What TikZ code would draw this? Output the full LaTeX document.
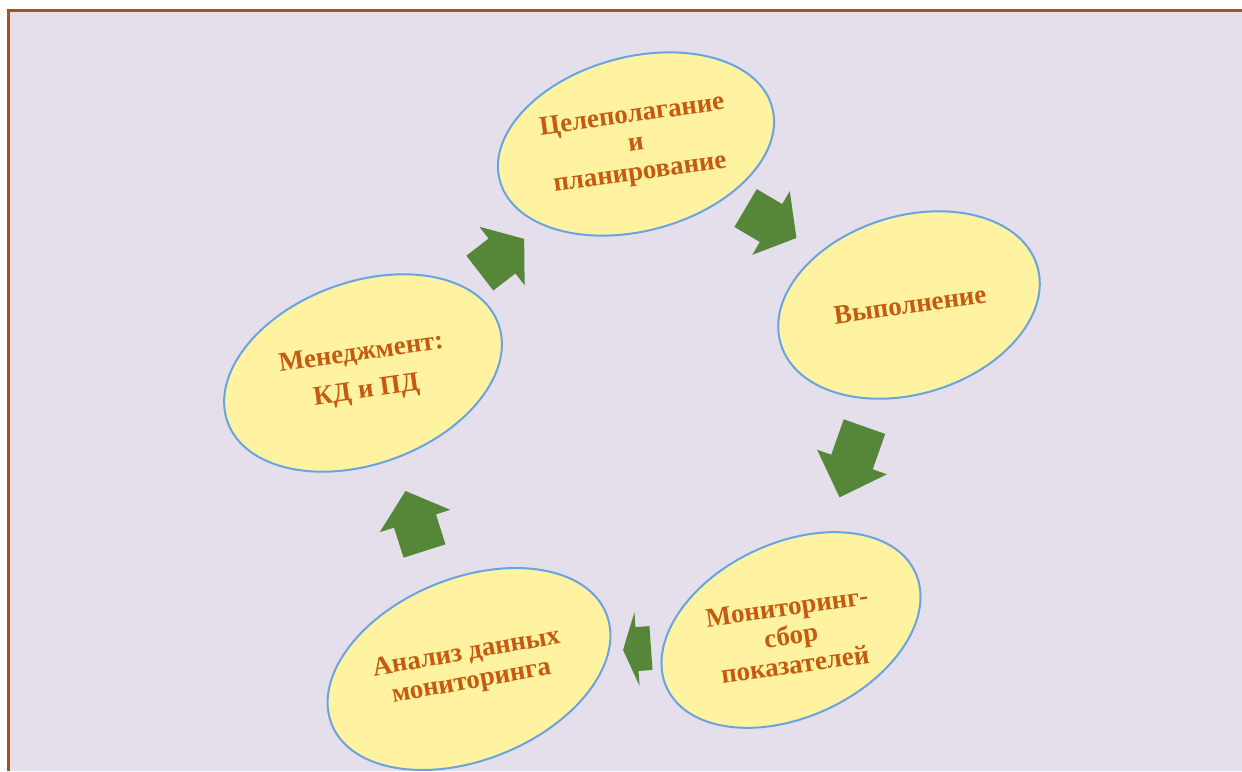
\documentclass[tikz,border=0pt]{standalone}
\usepackage{fontspec}
\setmainfont{Liberation Serif}
\usetikzlibrary{shapes.geometric}
\definecolor{lilac}{RGB}{229, 223, 236}
\definecolor{cream}{RGB}{255, 242, 161}
\definecolor{sky}{RGB}{104, 164, 224}
\definecolor{rust}{RGB}{197, 90, 17}
\definecolor{leaf}{RGB}{86, 135, 56}
\definecolor{frame}{RGB}{165, 82, 27}

% block arrow: centre, angle, length
\newcommand{\blockarrow}[3]{%
  \fill[leaf, shift={#1}, rotate=#2]
    (-#3/2, -22) -- (0, -22) -- (0, -37) -- (#3/2, 0)
    -- (0, 37) -- (0, 22) -- (-#3/2, 22) -- cycle;
}

\begin{document}
\begin{tikzpicture}[x=0.5pt, y=-0.5pt,
    bubble/.style={ellipse, fill=cream, draw=sky, line width=1pt, inner sep=0pt},
    caption/.style={text=rust, align=center, rotate=8,
      font=\bfseries\fontsize{13.5}{14.5}\selectfont}]

  \useasboundingbox (0, 0) rectangle (1242, 771);
  \clip (0, 0) rectangle (1242, 771);
  \fill[white] (0, 0) rectangle (1242, 771);
  \fill[lilac] (8, 10) rectangle (1242, 771);
  \draw[frame, line width=1.5pt] (8, 771) -- (8, 10) -- (1242, 10);

  % the five stages
  \node[bubble, rotate=15, minimum width=141pt, minimum height=87pt] (plan) at (636, 144) {};
  \node[bubble, rotate=17, minimum width=134pt, minimum height=89pt] (exec) at (909, 305) {};
  \node[bubble, rotate=25, minimum width=137pt, minimum height=87pt] (monit) at (791, 630) {};
  \node[bubble, rotate=22, minimum width=148pt, minimum height=91pt] (anal) at (469, 669) {};
  \node[bubble, rotate=20, minimum width=144pt, minimum height=91pt] (manag) at (363, 373) {};

  \node[caption] (plan-text) at (636, 145) {Целеполагание\\и\\планирование};
  \node[caption] (exec-text) at (910, 305) {Выполнение};
  \node[caption] (monit-text) at (791, 636) {Мониторинг-\\сбор\\показателей};
  \node[caption, rotate=2] (anal-text) at (469, 668) {Анализ данных\\мониторинга};
  \node[caption] (manag-text) at (364, 373) {Менеджмент:\\[4.5pt]КД и ПД};

  % arrows between the stages
  \blockarrow{(771, 223)}{-30.5}{59}
  \blockarrow{(852, 462)}{-109.4}{75}
  \blockarrow{(637, 649)}{-176}{28}
  \blockarrow{(415, 521)}{107.6}{63}
  \blockarrow{(502, 256)}{37.7}{56}

\end{tikzpicture}
\end{document}
